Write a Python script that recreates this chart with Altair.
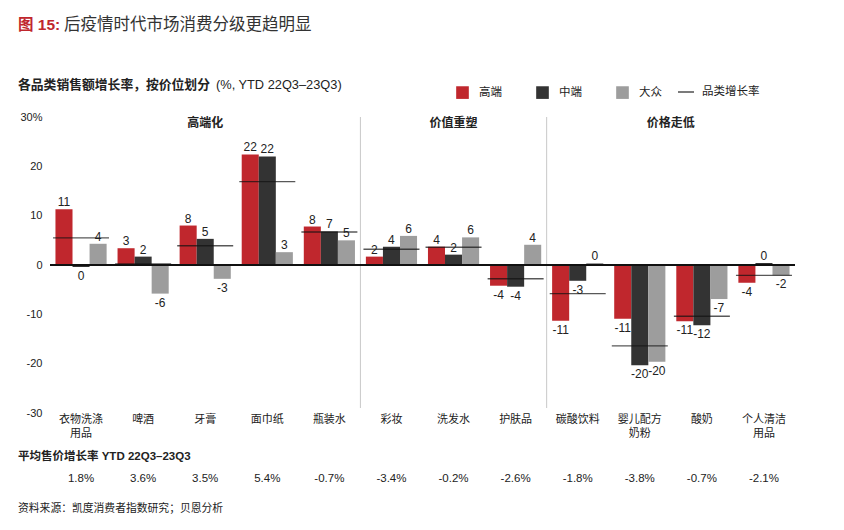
import altair as alt
import pandas as pd

# ---- data -------------------------------------------------------------
categories = ["衣物洗涤\n用品", "啤酒", "牙膏", "面巾纸", "瓶装水", "彩妆",
              "洗发水", "护肤品", "碳酸饮料", "婴儿配方\n奶粉", "酸奶", "个人清洁\n用品"]
tiers = ["高端", "中端", "大众"]
tier_colors = ["#C0272D", "#333333", "#9D9D9D"]

premium = [11.3, 3.4, 8.0, 22.4, 7.8, 1.7, 3.7, -4.2, -11.3, -10.9, -11.4, -3.6]
mid = [-0.4, 1.7, 5.3, 22.0, 6.8, 3.7, 2.1, -4.4, -3.2, -20.3, -12.2, 0.4]
mass = [4.3, -5.8, -2.8, 2.6, 5.0, 5.9, 5.6, 4.1, 0.4, -19.6, -6.9, -2.1]
category_growth = [5.5, 0.2, 3.9, 16.9, 6.7, 3.2, 3.6, -2.8, -5.8, -16.4, -10.4, -2.1]
avg_price_growth = ["1.8%", "3.6%", "3.5%", "5.4%", "-0.7%", "-3.4%",
                    "-0.2%", "-2.6%", "-1.8%", "-3.8%", "-0.7%", "-2.1%"]

section_names = ["高端化", "价值重塑"]
section_centers = ["牙膏", "洗发水"]
section_edge_name = ["价格走低"]
section_edge_at = ["酸奶"]
separator_at = ["彩妆", "碳酸饮料"]

# ---- tables -------------------------------------------------------------
rows = []
for tier, series in zip(tiers, [premium, mid, mass]):
    for cat, v in zip(categories, series):
        rows.append({"category": cat, "tier": tier, "value": v,
                     "label": str(int(round(v)))})
bars_df = pd.DataFrame(rows)
cat_df = pd.DataFrame({"category": categories, "growth": category_growth,
                       "price": avg_price_growth})
sec_df = pd.DataFrame({"category": section_centers, "name": section_names})
sec_edge_df = pd.DataFrame({"category": section_edge_at, "name": section_edge_name})
sep_df = pd.DataFrame({"category": separator_at})

FONT = "Liberation Sans, Arial, Noto Sans CJK SC"
TXT = "#222222"

x_scale = alt.Scale(domain=categories, paddingInner=0, paddingOuter=0)
y_scale = alt.Scale(domain=[-30, 30], nice=False, zero=False)

x_axis = alt.Axis(title=None, labelExpr="split(datum.label, '\\n')", labelAngle=0,
                  ticks=False, domain=False, labelPadding=0, labelFontSize=11,
                  labelLineHeight=14, labelColor=TXT, labelFont=FONT)
y_axis = alt.Axis(title=None, values=[-30, -20, -10, 0, 10, 20, 30],
                  labelExpr="datum.value == 30 ? '30%' : toString(datum.value)",
                  grid=False, domain=False, ticks=False, labelPadding=8,
                  labelFontSize=11, labelColor=TXT, labelFont=FONT)


def xenc(**kw):
    return alt.X("category:N", sort=categories, scale=x_scale, axis=x_axis, **kw)


def yenc(field):
    return alt.Y(f"{field}:Q", scale=y_scale, axis=y_axis)


separators = alt.Chart(sep_df).mark_rule(color="#C8C8C8", strokeWidth=1).encode(
    x=xenc(bandPosition=0), y=alt.value(0), y2=alt.value(291))

bars = alt.Chart(bars_df).mark_bar().encode(
    x=xenc(),
    xOffset=alt.XOffset("tier:N", sort=tiers,
                        scale=alt.Scale(domain=tiers, paddingOuter=0.32, paddingInner=0)),
    y=yenc("value"),
    color=alt.Color("tier:N", scale=alt.Scale(domain=tiers, range=tier_colors),
                    legend=alt.Legend(title=None, orient="none", legendX=406, legendY=-31,
                                      direction="horizontal", symbolType="square",
                                      symbolSize=160, symbolStrokeWidth=0,
                                      labelFontSize=11.5, labelOffset=10,
                                      columnPadding=34, labelColor=TXT, labelFont=FONT,
                                      padding=0)),
)

zero_line = alt.Chart(pd.DataFrame({"value": [0]})).mark_rule(
    color="#111111", strokeWidth=2).encode(y=yenc("value"))

growth_ticks = alt.Chart(cat_df).mark_tick(
    color="#111111", size=56, thickness=1.4).encode(x=xenc(), y=yenc("growth"))

label_common = dict(fontSize=12, color=TXT, font=FONT, align="center")
pos_labels = alt.Chart(bars_df).transform_filter("datum.value >= 0").mark_text(
    baseline="alphabetic", dy=-3, **label_common).encode(
    x=xenc(), xOffset=alt.XOffset("tier:N", sort=tiers),
    y=yenc("value"), text="label:N")
neg_labels = alt.Chart(bars_df).transform_filter("datum.value < 0").mark_text(
    baseline="top", dy=4, **label_common).encode(
    x=xenc(), xOffset=alt.XOffset("tier:N", sort=tiers),
    y=yenc("value"), text="label:N")

sections = alt.Chart(sec_df).mark_text(
    fontSize=12, fontWeight="bold", color=TXT, font=FONT, baseline="middle").encode(
    x=xenc(), y=alt.value(6), text="name:N")
sections_edge = alt.Chart(sec_edge_df).mark_text(
    fontSize=12, fontWeight="bold", color=TXT, font=FONT, baseline="middle").encode(
    x=xenc(bandPosition=0), y=alt.value(6), text="name:N")

price_row = alt.Chart(cat_df).mark_text(
    fontSize=11.5, color=TXT, font=FONT, baseline="middle").encode(
    x=xenc(), y=alt.value(362), text="price:N")


def note(text, x, y, size, weight="normal", color=TXT):
    return alt.Chart(pd.DataFrame({"t": [text]})).mark_text(
        align="left", baseline="middle", fontSize=size, fontWeight=weight,
        color=color, font=FONT).encode(x=alt.value(x), y=alt.value(y), text="t:N")


title_a = note("图 15:", -32, -92, 15.5, "bold", "#C0272D")
title_b = note("后疫情时代市场消费分级更趋明显", 14, -92, 16.5, "normal", "#333333")
sub_a = note("各品类销售额增长率，按价位划分", -32, -32, 12.8, "bold")
sub_b = note("(%, YTD 22Q3–23Q3)", 166, -32, 12.8)
legend_line = alt.Chart(pd.DataFrame({"v": [0]})).mark_rule(
    color="#222222", strokeWidth=1.2).encode(
    x=alt.value(628), x2=alt.value(644), y=alt.value(-25))
legend_text = note("品类增长率", 652, -25, 11.5)
row_title = note("平均售价增长率 YTD 22Q3–23Q3", -32, 340, 11.5, "bold")
source = note("资料来源：凯度消费者指数研究；贝恩分析", -32, 392, 10.8)

chart = alt.layer(
    separators, bars, zero_line, growth_ticks, pos_labels, neg_labels,
    sections, sections_edge, price_row, title_a, title_b, sub_a, sub_b,
    legend_line, legend_text, row_title, source,
).properties(
    width=745, height=296,
    padding={"left": 50, "top": 117, "right": 49, "bottom": 117},
    autosize=alt.AutoSizeParams(type="none"),
    background="white",
).configure_view(stroke=None)

chart.save("out.html", embed_options={"renderer": "svg", "actions": False})
